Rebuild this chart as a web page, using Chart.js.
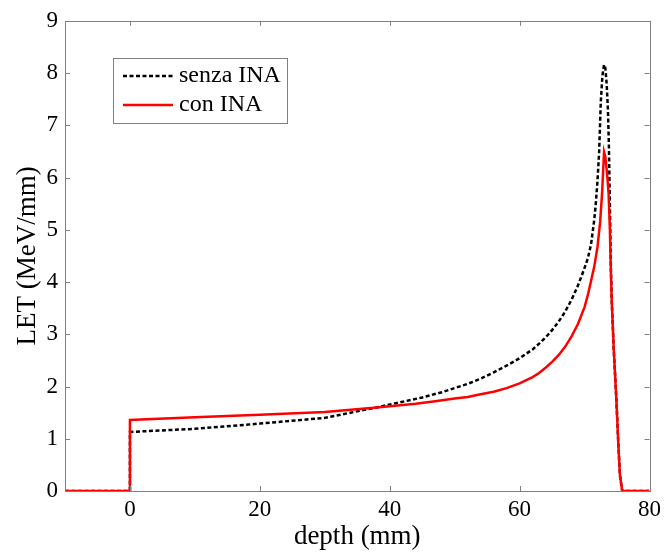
<!DOCTYPE html>
<html>
<head>
<meta charset="utf-8">
<script src="https://cdn.jsdelivr.net/npm/chart.js@4.4.1/dist/chart.umd.min.js"></script>
<style>
  html, body { margin: 0; padding: 0; background: #fff; }
  #wrap { width: 666px; height: 554px; position: relative; }
</style>
</head>
<body>
<div id="wrap"><canvas id="chart" width="666" height="554"></canvas></div>
<script>
// LET vs depth
const depthSenza = [-10, 0, 0, 10, 20, 30, 38, 45, 48, 50, 52, 54, 56, 58, 60, 62, 63, 64, 65, 66, 67, 68, 69, 69.5, 70, 70.5, 71, 71.5, 71.7, 72, 72.25, 72.5, 72.75, 73.0, 73.2, 73.4, 73.6, 73.75, 73.9, 74.05, 74.2, 74.5, 74.9, 75.2, 75.45, 75.8, 80];
const letSenza   = [0, 0, 1.13, 1.19, 1.29, 1.40, 1.60, 1.79, 1.89, 1.97, 2.05, 2.15, 2.27, 2.40, 2.54, 2.71, 2.82, 2.94, 3.08, 3.24, 3.43, 3.66, 3.94, 4.10, 4.27, 4.45, 4.72, 5.2, 5.45, 5.95, 6.5, 7.45, 7.95, 8.16, 8.1, 7.8, 7.3, 6.6, 5.5, 4.3, 3.6, 2.7, 1.75, 0.9, 0.3, 0, 0];

const depthCon = [-10, 0, 0, 10, 20, 30, 38, 40, 44, 47, 50, 52, 54, 56, 58, 60, 62, 63, 64, 65, 66, 67, 68, 69, 70, 70.5, 71, 71.5, 72, 72.4, 72.7, 73.0, 73.2, 73.45, 73.7, 73.9, 74.05, 74.2, 74.5, 74.9, 75.2, 75.45, 75.8, 80];
const letCon   = [0, 0, 1.36, 1.41, 1.46, 1.51, 1.60, 1.62, 1.67, 1.72, 1.77, 1.80, 1.85, 1.90, 1.97, 2.06, 2.18, 2.26, 2.36, 2.47, 2.60, 2.76, 2.96, 3.2, 3.52, 3.75, 4.02, 4.3, 4.68, 5.15, 5.7, 6.49, 6.4, 6.1, 5.7, 5.0, 4.2, 3.6, 2.7, 1.75, 0.9, 0.3, 0, 0];

const xTicks = [0, 20, 40, 60, 80];
const yTicks = [0, 1, 2, 3, 4, 5, 6, 7, 8, 9];
const seriesNames = ['senza INA', 'con INA'];

const serif = '"Liberation Serif", "Times New Roman", serif';
const axisGray = '#808080';

function toPoints(xs, ys) {
    return xs.map((x, i) => ({ x: x, y: ys[i] }));
}

// box around the plot with inward ticks, matlab style
const boxPlugin = {
    id: 'box',
    afterDatasetsDraw(chart) {
        const ctx = chart.ctx;
        const a = chart.chartArea;
        const xs = chart.scales.x, ys = chart.scales.y;
        const len = 5;
        ctx.save();
        ctx.strokeStyle = axisGray;
        ctx.lineWidth = 1;
        ctx.beginPath();
        xTicks.forEach(v => {
            const px = Math.round(xs.getPixelForValue(v)) + 0.5;
            ctx.moveTo(px, a.bottom); ctx.lineTo(px, a.bottom - len);
            ctx.moveTo(px, a.top); ctx.lineTo(px, a.top + len);
        });
        yTicks.forEach(v => {
            const py = Math.round(ys.getPixelForValue(v)) + 0.5;
            ctx.moveTo(a.left, py); ctx.lineTo(a.left + len, py);
            ctx.moveTo(a.right, py); ctx.lineTo(a.right - len, py);
        });
        ctx.stroke();
        ctx.strokeRect(Math.round(a.left) + 0.5, Math.round(a.top) + 0.5,
            Math.round(a.right - a.left), Math.round(a.bottom - a.top));
        ctx.restore();
    },
    afterDraw(chart) {
        // legend inside the axes, top left
        const ctx = chart.ctx;
        const bx = 113, by = 58, bw = 174, bh = 65;
        ctx.save();
        ctx.fillStyle = '#fff';
        ctx.fillRect(bx, by, bw, bh);
        ctx.strokeStyle = axisGray;
        ctx.lineWidth = 1;
        ctx.strokeRect(bx + 0.5, by + 0.5, bw, bh);
        const rows = [76, 105];
        chart.data.datasets.forEach((ds, i) => {
            const y = rows[i];
            ctx.strokeStyle = ds.borderColor;
            ctx.lineWidth = ds.borderWidth;
            ctx.setLineDash(ds.borderDash || []);
            ctx.beginPath();
            ctx.moveTo(123, y);
            ctx.lineTo(173, y);
            ctx.stroke();
            ctx.setLineDash([]);
            ctx.fillStyle = '#000';
            ctx.font = '24px ' + serif;
            ctx.textBaseline = 'middle';
            ctx.fillText(ds.label, 179, y);
        });
        ctx.restore();
    }
};

const ctx = document.getElementById('chart').getContext('2d');
new Chart(ctx, {
    type: 'line',
    data: {
        datasets: [
            {
                label: seriesNames[0],
                data: toPoints(depthSenza, letSenza),
                borderColor: '#000000',
                borderWidth: 2.5,
                borderDash: [4, 2.5],
                pointRadius: 0,
                tension: 0,
                order: 1
            },
            {
                label: seriesNames[1],
                data: toPoints(depthCon, letCon),
                borderColor: '#ff0000',
                borderWidth: 2.5,
                pointRadius: 0,
                tension: 0,
                order: 0
            }
        ]
    },
    options: {
        responsive: false,
        animation: false,
        layout: { padding: { left: 0, right: 14, top: 18, bottom: 0 } },
        plugins: { legend: { display: false }, tooltip: { enabled: false } },
        scales: {
            x: {
                type: 'linear',
                min: -10,
                max: 80,
                afterBuildTicks: s => { s.ticks = xTicks.map(v => ({ value: v })); },
                afterFit: s => { s.height = 63; },
                grid: { display: false, drawTicks: false },
                border: { display: false },
                ticks: { color: '#000', font: { family: serif, size: 23 }, padding: 5, maxRotation: 0 },
                title: { display: true, text: 'depth (mm)', color: '#000', font: { family: serif, size: 27 }, padding: { top: 0, bottom: 1 } }
            },
            y: {
                min: 0,
                max: 9,
                afterBuildTicks: s => { s.ticks = yTicks.map(v => ({ value: v })); },
                afterFit: s => { s.width = 65; },
                grid: { display: false, drawTicks: false },
                border: { display: false },
                ticks: { color: '#000', font: { family: serif, size: 23 }, padding: 7 },
                title: { display: true, text: 'LET (MeV/mm)', color: '#000', font: { family: serif, size: 27 }, padding: { top: 12, bottom: 0 } }
            }
        }
    },
    plugins: [boxPlugin]
});
</script>
</body>
</html>
